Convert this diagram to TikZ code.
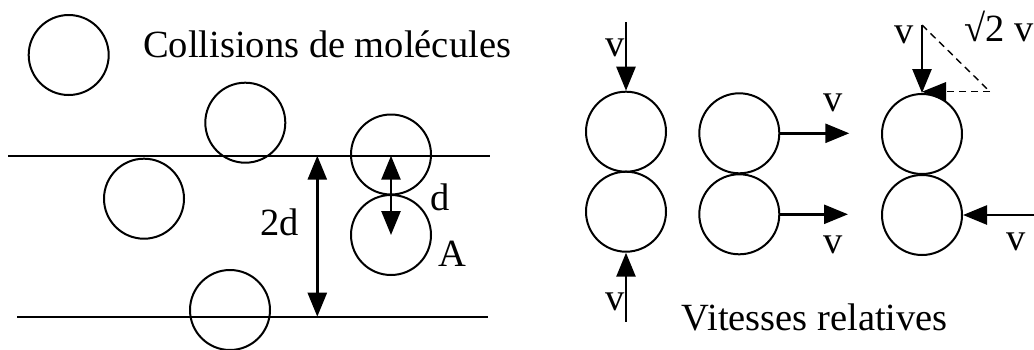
\documentclass[tikz,border=0pt]{standalone}
\usepackage{fontspec}
\setmainfont{Liberation Serif}
\usetikzlibrary{arrows.meta}
\begin{document}
\begin{tikzpicture}[x=1pt,y=-1pt,
  mol/.style={circle,draw,line width=2pt,minimum size=80pt,inner sep=0pt},
  lbl/.style={anchor=base west,inner sep=0pt,font=\fontsize{38.5}{46}\selectfont},
  wire/.style={line width=2.2pt},
  tipA/.tip={Triangle[length=24pt,width=19pt]},
  arr/.style={line width=2.6pt,-tipA},
  darr/.style={line width=2.6pt,tipA-tipA},
  dashline/.style={line width=1.4pt,dash pattern=on 7pt off 5pt}]
\useasboundingbox (0,0) rectangle (1034,349);
% left part
\node[mol] (c1) at (68.7,55) {};
\node[mol] (c2) at (245.3,122.7) {};
\node[mol] (c3) at (144,198.7) {};
\node[mol] (c4) at (230,310) {};
\node[mol] (a1) at (391,154.5) {};
\node[mol] (a2) at (391,235) {};
\coordinate (t1) at (8,155.7);
\coordinate (t2) at (490,155.7);
\coordinate (b1) at (17,316.7);
\coordinate (b2) at (488,316.7);
\draw[wire] (t1) -- (t2);
\draw[wire] (b1) -- (b2);
\coordinate (h1) at (317.3,155.7);
\coordinate (h2) at (317.3,316.7);
\draw[darr] (h1) -- (h2);
\coordinate (dtop) at (391,155.7);
\draw[darr] (dtop) -- (a2.center);
\node[lbl] (title1) at (143,57.3) {Collisions de molécules};
\node[lbl] (l2d) at (260,235) {2d};
\node[lbl] (ld) at (430,210) {d};
\node[lbl] (lA) at (438,266.7) {A};
% right part
\node[mol] (p1) at (626,131.7) {};
\node[mol] (p2) at (626,211.7) {};
\node[mol] (q1) at (739.3,133.3) {};
\node[mol] (q2) at (739.3,214.3) {};
\node[mol] (r1) at (922,134) {};
\node[mol] (r2) at (922,215) {};
\coordinate (p1in) at (626,22);
\coordinate (p2in) at (626,321.7);
\coordinate (q1out) at (849.3,133.3);
\coordinate (q2out) at (848,214.3);
\coordinate (r1in) at (922,25);
\coordinate (r2in) at (1034,215);
\coordinate (dc) at (990,91.7);
\coordinate (tipc) at (922,91.7);
\draw[arr] (p1in) -- (p1.north);
\draw[arr] (p2in) -- (p2.south);
\draw[arr] (q1.east) -- (q1out);
\draw[arr] (q2.east) -- (q2out);
\draw[arr] (r1in) -- (r1.north);
\draw[arr] (r2in) -- (r2.east);
\draw[dashline] (r1in) -- (dc);
\draw[dashline,-{Triangle[length=24pt,width=19pt]}] (dc) -- (tipc);
\node[lbl] (v1) at (605,56.7) {v};
\node[lbl] (v2) at (605,310) {v};
\node[lbl] (v3) at (823,111.7) {v};
\node[lbl] (v4) at (823,253.3) {v};
\node[lbl] (v5) at (894,43.3) {v};
\node[lbl] (v6) at (964,41.7) {√2 v};
\node[lbl] (v7) at (1006,250) {v};
\node[lbl] (title2) at (681.7,330) {Vitesses relatives};
\end{tikzpicture}
\end{document}
